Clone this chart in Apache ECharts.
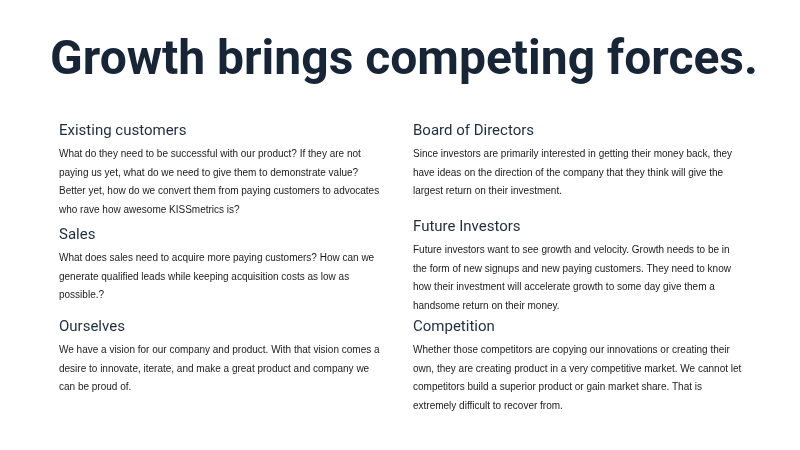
<!DOCTYPE html>
<html><head><meta charset="utf-8">
<script src="https://cdn.jsdelivr.net/npm/echarts@6/dist/echarts.min.js"></script>
<style>html,body{margin:0;background:#fff}#c{width:800px;height:450px}</style>
</head><body><div id="c"></div>
<script>
var title = 'Growth brings competing forces.';
var headings = ['Existing customers','Sales','Ourselves','Board of Directors','Future Investors','Competition'];
var bodies = [
  ['What do they need to be successful with our product? If they are not','paying us yet, what do we need to give them to demonstrate value?','Better yet, how do we convert them from paying customers to advocates','who rave how awesome KISSmetrics is?'],
  ['What does sales need to acquire more paying customers? How can we','generate qualified leads while keeping acquisition costs as low as','possible.?'],
  ['We have a vision for our company and product. With that vision comes a','desire to innovate, iterate, and make a great product and company we','can be proud of.'],
  ['Since investors are primarily interested in getting their money back, they','have ideas on the direction of the company that they think will give the','largest return on their investment.'],
  ['Future investors want to see growth and velocity. Growth needs to be in','the form of new signups and new paying customers. They need to know','how their investment will accelerate growth to some day give them a','handsome return on their money.'],
  ['Whether those competitors are copying our innovations or creating their','own, they are creating product in a very competitive market. We cannot let','competitors build a superior product or gain market share. That is','extremely difficult to recover from.']
];
var colX = [59,59,59,413,413,413];
var headY = [131,235,327,131,227,327];

var chart = echarts.init(document.getElementById('c'));
var els = [{type:'text',x:404,y:62,style:{text:title,font:'bold 48px Roboto',fill:'#182536',align:'center',verticalAlign:'middle'}}];
headings.forEach(function(h,i){
  els.push({type:'text',x:colX[i],y:headY[i],style:{text:h,font:'15px Roboto',fill:'#1f2d3d',verticalAlign:'middle'}});
  els.push({type:'text',x:colX[i],y:headY[i]+14,style:{text:bodies[i].join('\n'),font:'10px "Liberation Sans"',lineHeight:18.5,fill:'#1a1a1a'}});
});
chart.setOption({graphic:els});
</script></body></html>
